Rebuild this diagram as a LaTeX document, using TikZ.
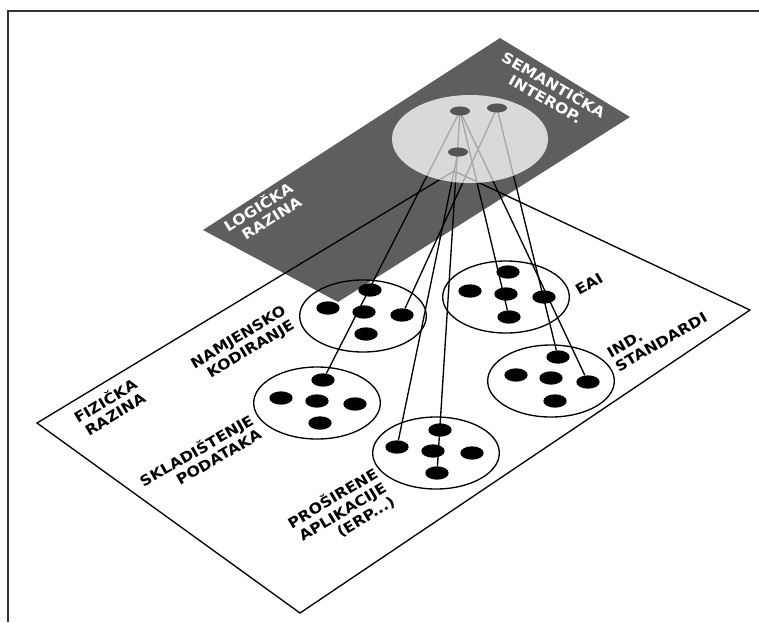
\documentclass[tikz,border=0pt]{standalone}
\usepackage{fontspec}
\setmainfont{DejaVu Sans}
\newfontfamily\lblfont[FakeStretch=1.1]{DejaVu Sans Bold}
\usetikzlibrary{shapes.geometric}
\definecolor{darkplane}{HTML}{000000}
\definecolor{lightell}{HTML}{D9D9D9}
\definecolor{sdotc}{HTML}{555555}
\definecolor{ghost}{HTML}{A8A8A8}
\definecolor{framec}{HTML}{333333}
\tikzset{
  ldot/.style={ellipse, fill=black, inner sep=0pt, minimum width=17.5pt, minimum height=10pt},
  sdot/.style={ellipse, fill=sdotc, inner sep=0pt, minimum width=15pt, minimum height=6.8pt},
  group/.style={ellipse, draw=black, line width=1pt, inner sep=0pt, minimum width=95pt, minimum height=54pt},
  conn/.style={line width=1pt, black},
  lbl/.style={font=\lblfont\fontsize{10.8}{12.3}\selectfont, inner sep=0pt, text=black},
  wlbl/.style={lbl, text=white},
}
\begin{document}
\begin{tikzpicture}[x=0.75pt,y=-0.75pt]
\useasboundingbox (0,0) rectangle (759,622);
% frame
\draw[framec, line width=1.1pt] (8,622) -- (8,11) -- (759,11);
% lower (physical) plane
\coordinate (PL) at (37,423);
\coordinate (PT) at (454,171);
\coordinate (PR) at (750,310);
\coordinate (PB) at (300,613);
\draw[line width=1pt] (PL) -- (PT) -- (PR) -- (PB) -- cycle;
% groups
\node[group] (gN) at (363,316) {};
\node[group] (gE) at (506,297) {};
\node[group] (gI) at (551,381) {};
\node[group] (gS) at (317,403) {};
\node[group] (gP) at (436,453) {};
% dots
\node[ldot] (N1) at (328,308) {};
\node[ldot] (N2) at (370,290) {};
\node[ldot] (N3) at (364,312) {};
\node[ldot] (N4) at (402,315) {};
\node[ldot] (N5) at (366,334) {};
\node[ldot] (E1) at (470,291) {};
\node[ldot] (E2) at (508,272) {};
\node[ldot] (E3) at (506,294) {};
\node[ldot] (E4) at (509,317) {};
\node[ldot] (E5) at (544,297) {};
\node[ldot] (I1) at (558,357) {};
\node[ldot] (I2) at (516,375) {};
\node[ldot] (I3) at (551,378) {};
\node[ldot] (I4) at (588,382) {};
\node[ldot] (I5) at (555,401) {};
\node[ldot] (S1) at (323,380) {};
\node[ldot] (S2) at (281,398) {};
\node[ldot] (S3) at (317,401) {};
\node[ldot] (S4) at (355,404) {};
\node[ldot] (S5) at (320,423) {};
\node[ldot] (P1) at (440,430) {};
\node[ldot] (P2) at (397,447) {};
\node[ldot] (P3) at (433,451) {};
\node[ldot] (P4) at (472,453) {};
\node[ldot] (P5) at (437,473) {};
% top dots positions
\coordinate (A) at (460,111);
\coordinate (B) at (497,108);
\coordinate (C) at (458,152);
% connectors
\draw[conn] (A) -- (S1);
\draw[conn] (A) -- (P5);
\draw[conn] (A) -- (E4);
\draw[conn] (A) -- (I4);
\draw[conn] (B) -- (N4);
\draw[conn] (B) -- (I1);
\draw[conn] (C) -- (P2);
% logical plane (translucent)
\fill[darkplane, opacity=0.63] (500,38) -- (630,117) -- (338,302) -- (203,230) -- cycle;
% semantic ellipse
\node[ellipse, fill=lightell, inner sep=0pt, minimum width=117pt, minimum height=66pt] (sem) at (470,139) {};
\begin{scope}
\clip (470,139) ellipse [x radius=78, y radius=44];
\draw[line width=1pt, ghost] (PL) -- (PT) -- (PR);
\draw[conn, ghost] (A) -- (S1);
\draw[conn, ghost] (A) -- (P5);
\draw[conn, ghost] (A) -- (E4);
\draw[conn, ghost] (A) -- (I4);
\draw[conn, ghost] (B) -- (N4);
\draw[conn, ghost] (B) -- (I1);
\draw[conn, ghost] (C) -- (P2);
\end{scope}
\node[sdot] (Ad) at (A) {};
\node[sdot] (Bd) at (B) {};
\node[sdot] (Cd) at (C) {};
% labels
\node[wlbl, rotate=-30, align=center] (semt) at (550,91) {SEMANTIČKA\\INTEROP.};
\node[wlbl, rotate=32, align=right] (logt) at (262,213) {LOGIČKA\\RAZINA};
\node[lbl, rotate=31, align=right] (fizt) at (109,407) {FIZIČKA\\RAZINA};
\node[lbl, rotate=31, align=right] (namt) at (243,345) {NAMJENSKO\\KODIRANJE};
\node[lbl, rotate=30, align=right] (sklt) at (200,457) {SKLADIŠTENJE\\PODATAKA};
\node[lbl, rotate=31, align=right] (prot) at (341,512) {PROŠIRENE\\APLIKACIJE\\(ERP...)};
\node[lbl, rotate=30] (eait) at (589,284) {EAI};
\node[lbl, rotate=30, align=left] (indt) at (657,335) {IND.\\STANDARDI};
\end{tikzpicture}
\end{document}
